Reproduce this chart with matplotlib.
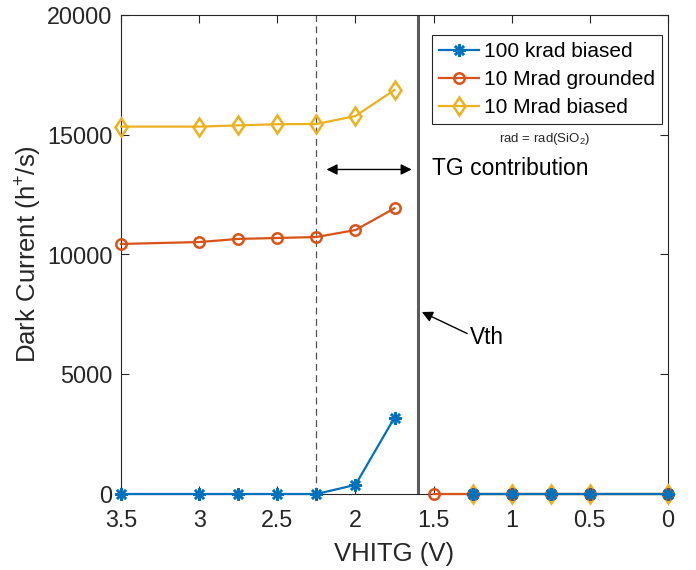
import numpy as np
import matplotlib
matplotlib.use("Agg")
import matplotlib.pyplot as plt

# data
vhitg_low = [3.5, 3.0, 2.75, 2.5, 2.25, 2.0, 1.75]
vhitg_high = [1.5, 1.25, 1.0, 0.75, 0.5, 0.0]

krad100_biased_low = [0, 0, 0, 0, 0, 380, 3190]
krad100_biased_high = [np.nan, 0, 0, 0, 0, 0]
mrad10_grounded_low = [10440, 10520, 10650, 10690, 10730, 11020, 11930]
mrad10_grounded_high = [0, 0, 0, 0, 0, 0]
mrad10_biased_low = [15340, 15340, 15390, 15440, 15450, 15780, 16870]
mrad10_biased_high = [np.nan, 0, 0, 0, 0, 0]

series_labels = ["100 krad biased", "10 Mrad grounded", "10 Mrad biased"]
x_ticks = [3.5, 3, 2.5, 2, 1.5, 1, 0.5, 0]
x_tick_labels = ["3.5", "3", "2.5", "2", "1.5", "1", "0.5", "0"]
y_ticks = [0, 5000, 10000, 15000, 20000]

tg_start = 2.25   # dashed line
vth = 1.6         # solid line

plt.rcParams["font.family"] = ["Liberation Sans", "DejaVu Sans"]
plt.rcParams["mathtext.fontset"] = "custom"
plt.rcParams["mathtext.rm"] = "Liberation Sans"
plt.rcParams["mathtext.it"] = "Liberation Sans"

fig = plt.figure(figsize=(6.96, 5.70), dpi=100)
ax = fig.add_axes([121 / 696, 76 / 570, 547 / 696, 479 / 570])

def joined(low, high):
    # NaN between the two parts gives the gap around Vth
    return list(low) + [np.nan] + list(high)

x_all = joined(vhitg_low, vhitg_high)

blue = "#0072BD"
orange = "#D95319"
yellow = "#EDB120"

ax.plot(x_all, joined(mrad10_biased_low, mrad10_biased_high), color=yellow,
        lw=1.6, marker="d", ms=9.5, mfc="none", mew=1.8, zorder=3,
        clip_on=False, label=series_labels[2])
ax.plot(x_all, joined(mrad10_grounded_low, mrad10_grounded_high), color=orange,
        lw=1.6, marker="o", ms=7.5, mfc="none", mew=1.8, zorder=3,
        clip_on=False, label=series_labels[1])
ax.plot(x_all, joined(krad100_biased_low, krad100_biased_high), color=blue,
        lw=1.6, marker=(8, 2, 0), ms=9, mew=1.8, zorder=4,
        clip_on=False, label=series_labels[0])

ax.axvline(tg_start, color="#505050", lw=0.9, dashes=(5.5, 3.5), zorder=2)
ax.axvline(vth, color="#5a5a5a", lw=2.2, zorder=2)

ax.set_xlim(3.5, 0)
ax.set_ylim(0, 20000)
ax.set_xticks(x_ticks)
ax.set_xticklabels(x_tick_labels)
ax.set_yticks(y_ticks)

for s in ax.spines.values():
    s.set_color("#262626")
    s.set_linewidth(0.8)
ax.tick_params(direction="in", top=True, right=True, length=6, width=0.8,
               color="#262626", labelcolor="#262626", labelsize=16.8)
ax.tick_params(axis="x", pad=11)
ax.tick_params(axis="y", pad=6)

ax.set_xlabel("VHITG (V)", fontsize=18.5, color="#262626", labelpad=7)
ax.set_ylabel("Dark Current (h$^{+}$/s)", fontsize=18.5, color="#262626", labelpad=2)

# legend in MATLAB order
h, l = ax.get_legend_handles_labels()
leg = ax.legend(h[::-1], l[::-1], loc="upper left", bbox_to_anchor=(0.5686, 0.958),
                borderaxespad=0, fontsize=15, frameon=True, fancybox=False,
                framealpha=1, edgecolor="#262626", handlelength=1.9,
                handletextpad=0.25, labelspacing=0.42, borderpad=0.35)
leg.get_frame().set_linewidth(0.8)

ax.text(0.787, 14820, "rad = rad(SiO$_2$)", fontsize=9.5, ha="center", va="center",
        color="#262626")

# TG contribution arrow and label
ax.annotate("", xy=(1.64, 13550), xytext=(2.185, 13550),
            arrowprops=dict(arrowstyle="<|-|>", color="black", lw=1.0,
                            mutation_scale=16, shrinkA=0, shrinkB=0))
ax.text(1.51, 13600, "TG contribution", fontsize=16.5, ha="left", va="center")

# Vth arrow and label
ax.annotate("", xy=(1.575, 7600), xytext=(1.285, 6700),
            arrowprops=dict(arrowstyle="-|>", color="black", lw=1.0,
                            mutation_scale=16, shrinkA=0, shrinkB=0))
ax.text(1.27, 6550, "Vth", fontsize=16.3, ha="left", va="center")

fig.savefig("out.png", dpi=100)
